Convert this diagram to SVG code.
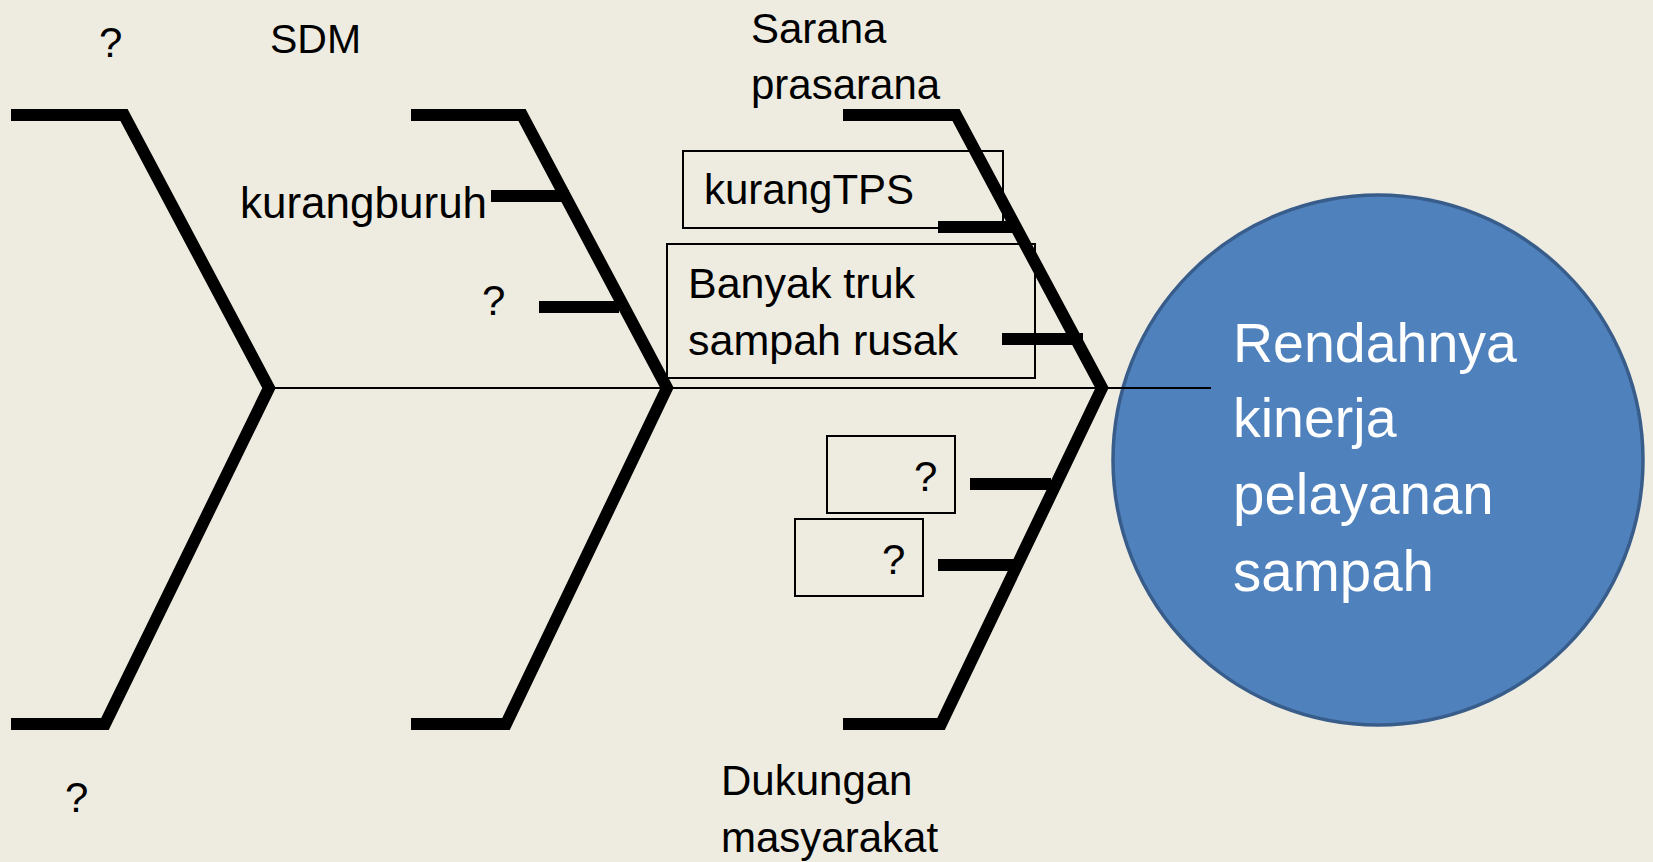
<svg xmlns="http://www.w3.org/2000/svg" width="1653" height="862" viewBox="0 0 1653 862">
  <style>
    .bone { fill: none; stroke: #000; stroke-width: 12; stroke-linejoin: miter; stroke-linecap: butt; }
    .spine { fill: none; stroke: #000; stroke-width: 2; }
    .box { fill: none; stroke: #000; stroke-width: 2; }
    .lbl { font-family: "Liberation Sans", Arial, sans-serif; font-size: 42px; fill: #000; }
    .head { font-family: "Liberation Sans", Arial, sans-serif; font-size: 55.5px; fill: #fff; }
  </style>
  <rect width="1653" height="862" fill="#eeece1"/>

  <!-- spine, bones and cause branches -->
  <g id="connectors">
    <line class="spine" x1="269" y1="388" x2="1211" y2="388"/>
    <polyline class="bone" points="11,115 124,115 269,388 105,724 11,724"/>
    <polyline class="bone" points="411,115 522,115 667,388 506,724 411,724"/>
    <polyline class="bone" points="843,115 956,115 1102,388 941,724 843,724"/>
    <line class="bone" x1="491" y1="196" x2="569" y2="196"/>
    <line class="bone" x1="539" y1="307" x2="619" y2="307"/>
    <line class="bone" x1="938" y1="227" x2="1016" y2="227"/>
    <line class="bone" x1="1002" y1="339" x2="1083" y2="339"/>
    <line class="bone" x1="970" y1="484" x2="1051" y2="484"/>
    <line class="bone" x1="938" y1="565" x2="1016" y2="565"/>
  </g>

  <!-- category labels -->
  <g id="cat-top-left"><text class="lbl" x="99" y="57">?</text></g>
  <g id="cat-sdm"><text class="lbl" x="270" y="53" style="font-size:41px">SDM</text></g>
  <g id="cat-sarana">
    <text class="lbl" x="751" y="43">Sarana</text>
    <text class="lbl" x="751" y="99">prasarana</text>
  </g>
  <g id="cat-bottom-left"><text class="lbl" x="65" y="812">?</text></g>
  <g id="cat-dukungan">
    <text class="lbl" x="721" y="795">Dukungan</text>
    <text class="lbl" x="721" y="852">masyarakat</text>
  </g>

  <!-- causes -->
  <g id="cause-kurangburuh"><text class="lbl" x="240" y="218" style="font-size:44px">kurangburuh</text></g>
  <g id="cause-sdm-q"><text class="lbl" x="482" y="315">?</text></g>
  <g id="cause-kurangtps">
    <rect class="box" x="683" y="151" width="320" height="77"/>
    <text class="lbl" x="704" y="204">kurangTPS</text>
  </g>
  <g id="cause-truk">
    <rect class="box" x="667" y="244" width="368" height="134"/>
    <text class="lbl" x="688" y="298" style="font-size:43px">Banyak truk</text>
    <text class="lbl" x="688" y="355" style="font-size:43px">sampah rusak</text>
  </g>
  <g id="cause-q1">
    <rect class="box" x="827" y="436" width="128" height="77"/>
    <text class="lbl" x="914" y="491">?</text>
  </g>
  <g id="cause-q2">
    <rect class="box" x="795" y="519" width="128" height="77"/>
    <text class="lbl" x="882" y="574">?</text>
  </g>

  <!-- effect -->
  <g id="effect">
    <circle cx="1378" cy="460" r="265" fill="#4f81bd" stroke="#385d8a" stroke-width="3.5"/>
    <text class="head" x="1233" y="362">Rendahnya</text>
    <text class="head" x="1233" y="437">kinerja</text>
    <text class="head" x="1233" y="514" style="font-size:56.5px">pelayanan</text>
    <text class="head" x="1233" y="591" style="font-size:56.5px">sampah</text>
  </g>
  <!-- spine tip drawn over the effect circle -->
  <line class="spine" x1="1100" y1="388" x2="1211" y2="388"/>
</svg>
